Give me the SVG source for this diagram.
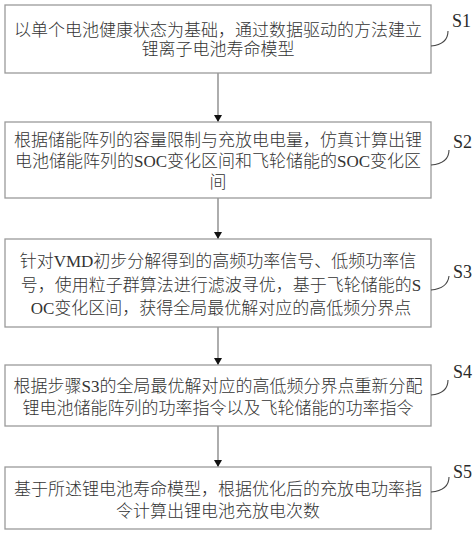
<svg xmlns="http://www.w3.org/2000/svg" width="474" height="535" viewBox="0 0 474 535">
<style>
.box{fill:#fff;stroke:#9a9a9a;stroke-width:1.3}
.t{font-family:"Liberation Serif","Noto Sans CJK SC",serif;font-size:17px;font-weight:300;fill:#333;text-anchor:middle}
.lbl{font-family:"Liberation Serif","Noto Sans CJK SC",serif;font-size:18px;fill:#2a2a2a}
.conn{stroke:#777;stroke-width:1.2;fill:none}
.lead{stroke:#444;stroke-width:1.1;fill:none}
</style>
<defs>
<marker id="ah" markerUnits="userSpaceOnUse" markerWidth="8" markerHeight="10" refX="7" refY="4" orient="auto">
<path d="M0,0 L7,4 L0,8 Z" fill="#111"/>
</marker>
</defs>
<rect width="474" height="535" fill="#fff"/>
<g id="connectors">
<line class="conn" x1="218" y1="73" x2="218" y2="122" marker-end="url(#ah)"/>
<line class="conn" x1="218" y1="198" x2="218" y2="239" marker-end="url(#ah)"/>
<line class="conn" x1="218" y1="327" x2="218" y2="365" marker-end="url(#ah)"/>
<line class="conn" x1="218" y1="426" x2="218" y2="467" marker-end="url(#ah)"/>
</g>
<g id="S1">
<rect class="box" x="5" y="5" width="426" height="68"/>
<text class="t" x="218" y="36">以单个电池健康状态为基础，通过数据驱动的方法建立</text>
<text class="t" x="218" y="55">锂离子电池寿命模型</text>
<path class="lead" d="M431,46 C442,45 448,41 448,31"/>
<text class="lbl" x="452" y="27">S1</text>
</g>
<g id="S2">
<rect class="box" x="5" y="122" width="426" height="76"/>
<text class="t" x="218" y="146">根据储能阵列的容量限制与充放电电量，仿真计算出锂</text>
<text class="t" x="218" y="167">电池储能阵列的SOC变化区间和飞轮储能的SOC变化区</text>
<text class="t" x="218" y="188">间</text>
<path class="lead" d="M431,165 C442,164 449,160 449,150"/>
<text class="lbl" x="453" y="148">S2</text>
</g>
<g id="S3">
<rect class="box" x="5" y="239" width="426" height="88"/>
<text class="t" x="218" y="267">针对VMD初步分解得到的高频功率信号、低频功率信</text>
<text class="t" x="221" y="291">号，使用粒子群算法进行滤波寻优，基于飞轮储能的S</text>
<text class="t" x="221" y="314">OC变化区间，获得全局最优解对应的高低频分界点</text>
<path class="lead" d="M431,290 C442,289 448,285 449,276"/>
<text class="lbl" x="453" y="278">S3</text>
</g>
<g id="S4">
<rect class="box" x="5" y="365" width="426" height="61"/>
<text class="t" x="218" y="392">根据步骤S3的全局最优解对应的高低频分界点重新分配</text>
<text class="t" x="218" y="414">锂电池储能阵列的功率指令以及飞轮储能的功率指令</text>
<path class="lead" d="M431,395 C442,394 448,390 448,380"/>
<text class="lbl" x="453" y="378">S4</text>
</g>
<g id="S5">
<rect class="box" x="5" y="467" width="426" height="62"/>
<text class="t" x="218" y="495">基于所述锂电池寿命模型，根据优化后的充放电功率指</text>
<text class="t" x="218" y="517">令计算出锂电池充放电次数</text>
<path class="lead" d="M431,492 C442,491 449,487 449,477"/>
<text class="lbl" x="453" y="478">S5</text>
</g>
</svg>
